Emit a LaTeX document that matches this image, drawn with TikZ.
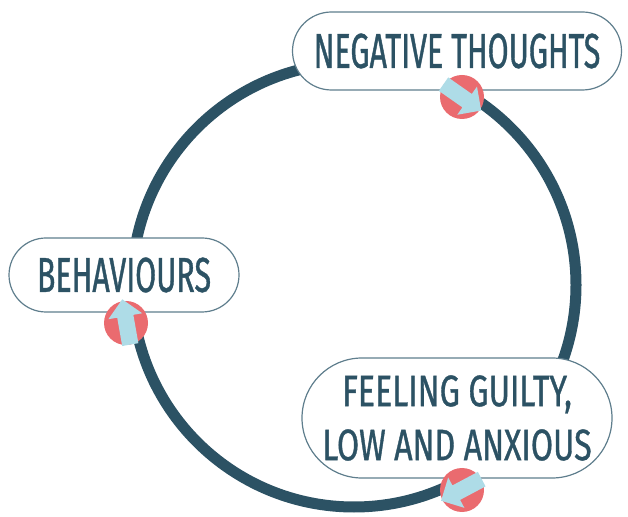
\documentclass[tikz,border=0pt]{standalone}
\usepackage{fontspec}
\newfontfamily\cyclefont{Fira Sans}[FakeStretch=0.62,FakeBold=0.8]
\newfontfamily\cyclewidefont{Fira Sans}[FakeStretch=0.73,FakeBold=0.8]
\usetikzlibrary{positioning,shapes.misc,shapes.arrows}
\definecolor{cycleteal}{HTML}{2C5264}
\definecolor{boxline}{HTML}{5F7E8D}
\definecolor{markred}{HTML}{EA6B6F}
\definecolor{arrowblue}{HTML}{AEDCE7}
\tikzset{
  x=1pt,y=1pt,
  cyclering/.style={draw=cycleteal,line width=11pt},
  thoughtbox/.style={rounded rectangle,draw=boxline,line width=1.2pt,fill=white,
    text=cycleteal,inner sep=0pt,align=center},
  bigtxt/.style={font=\cyclefont\fontsize{49}{53}\selectfont},
  smalltxt/.style={font=\cyclewidefont\fontsize{44}{54}\selectfont},
  marker/.style={circle,fill=markred,minimum size=44pt,inner sep=0pt},
  markarrow/.style={single arrow,fill=arrowblue,inner xsep=0pt,inner ysep=8pt,
    minimum height=46pt,single arrow head extend=9pt,single arrow head indent=0pt},
}
\begin{document}
\begin{tikzpicture}
  \useasboundingbox (0,0) rectangle (628,516);
  \coordinate (c) at (354,231);
  \draw[cyclering] (c) circle[radius=222];
  \node[thoughtbox,bigtxt,minimum width=329,minimum height=78] (neg) at (457,465) {NEGATIVE THOUGHTS};
  \node[thoughtbox,bigtxt,minimum width=230,minimum height=74] (beh) at (124,241) {BEHAVIOURS};
  \node[thoughtbox,smalltxt,minimum width=310,minimum height=120] (feel) at (457,98) {FEELING GUILTY,\\LOW AND ANXIOUS};
  \node[marker] (m1) at (462,419) {};
  \node[marker] (m2) at (126,193) {};
  \node[marker] (m3) at (462,26) {};
  \node[markarrow,rotate=-35] (a1) at ([shift={(-3,2)}]m1) {};
  \node[markarrow,rotate=100] (a2) at ([shift={(1,-3)}]m2) {};
  \node[markarrow,rotate=-152] (a3) at ([shift={(3,2)}]m3) {};
\end{tikzpicture}
\end{document}
